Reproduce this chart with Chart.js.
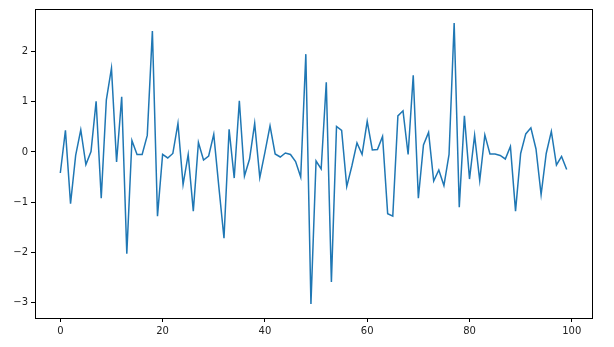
<!DOCTYPE html>
<html>
<head>
<meta charset="utf-8">
<script src="https://cdn.jsdelivr.net/npm/chart.js@4/dist/chart.umd.min.js"></script>
<style>
  html, body { margin: 0; padding: 0; background: #fff; overflow: hidden; }
</style>
</head>
<body>
<canvas id="lineChart" width="614" height="347"></canvas>
<script>
// values, index 0..99
const values = [
  -0.42, 0.43, -1.03, -0.07, 0.44, -0.25, 0.01, 1.01, -0.92, 1.04,
  1.67, -0.20, 1.10, -2.03, 0.23, -0.05, -0.05, 0.33, 2.41, -1.28,
  -0.05, -0.12, -0.03, 0.57, -0.65, -0.05, -1.18, 0.19, -0.16, -0.08,
  0.35, -0.70, -1.72, 0.45, -0.52, 1.02, -0.48, -0.14, 0.57, -0.51,
  -0.01, 0.52, -0.04, -0.10, -0.02, -0.05, -0.19, -0.50, 1.95, -3.03,
  -0.18, -0.34, 1.39, -2.59, 0.51, 0.43, -0.69, -0.28, 0.18, -0.05,
  0.61, 0.04, 0.05, 0.31, -1.23, -1.28, 0.72, 0.82, -0.05, 1.53,
  -0.92, 0.14, 0.39, -0.58, -0.36, -0.67, -0.05, 2.57, -1.10, 0.72,
  -0.54, 0.33, -0.57, 0.34, -0.04, -0.04, -0.07, -0.14, 0.11, -1.18,
  -0.03, 0.36, 0.48, 0.06, -0.85, -0.03, 0.41, -0.26, -0.09, -0.35
];
const xTicks = [0, 20, 40, 60, 80, 100];
const yTicks = [-3, -2, -1, 0, 1, 2];

const points = values.map((v, i) => ({ x: i, y: v }));

const frame = {
  id: "frame",
  afterDraw(chart) {
    const a = chart.chartArea;
    const c = chart.ctx;
    c.save();
    c.strokeStyle = "#000";
    c.lineWidth = 1;
    c.strokeRect(Math.round(a.left) + 0.5, Math.round(a.top) + 0.5,
      Math.round(a.right - a.left), Math.round(a.bottom - a.top));
    c.restore();
  }
};

const tickFont = { family: "DejaVu Sans", size: 10 };
const minus = (v) => String(v).replace("-", "\u2212");

new Chart(document.getElementById("lineChart"), {
  type: "line",
  data: {
    datasets: [{
      data: points,
      borderColor: "#1f77b4",
      borderWidth: 1.5,
      pointRadius: 0,
      tension: 0,
      fill: false
    }]
  },
  options: {
    responsive: false,
    animation: false,
    maintainAspectRatio: false,
    devicePixelRatio: 1,
    layout: { padding: { left: 0, right: 22, top: 8, bottom: 0 } },
    plugins: { legend: { display: false }, tooltip: { enabled: false } },
    scales: {
      x: {
        type: "linear",
        min: -4.95,
        max: 103.95,
        afterBuildTicks: (s) => { s.ticks = xTicks.map((v) => ({ value: v })); },
        afterFit: (s) => { s.height = 29; },
        grid: { drawOnChartArea: false, drawTicks: true, tickLength: 4, tickColor: "#000" },
        border: { display: false },
        ticks: { color: "#222", font: tickFont, padding: 3, maxRotation: 0, callback: minus }
      },
      y: {
        type: "linear",
        min: -3.31,
        max: 2.85,
        afterBuildTicks: (s) => { s.ticks = yTicks.map((v) => ({ value: v })); },
        afterFit: (s) => { s.width = 35; },
        grid: { drawOnChartArea: false, drawTicks: true, tickLength: 4, tickColor: "#000" },
        border: { display: false },
        ticks: { color: "#222", font: tickFont, padding: 3, callback: minus }
      }
    }
  },
  plugins: [frame]
});
</script>
</body>
</html>
